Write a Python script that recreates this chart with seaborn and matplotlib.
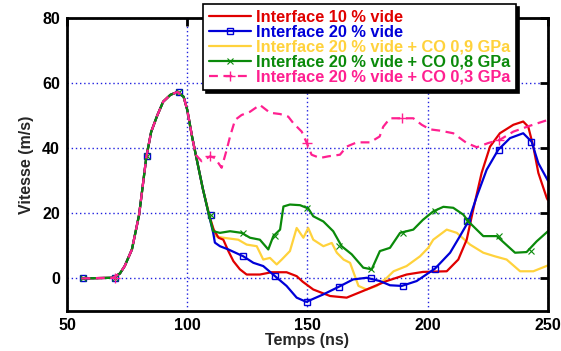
import numpy as np
import pandas as pd
import matplotlib
matplotlib.use("Agg")
import matplotlib.pyplot as plt
import seaborn as sns
from matplotlib.lines import Line2D

# partie commune (montee du pic)
rise_x = [56, 69, 72, 74, 77, 80, 83, 85, 87.5, 90, 93, 96, 98.5, 100, 102, 104, 106.5, 109]
rise_y = [0, 0.2, 1.5, 3.8, 8.9, 19.6, 37.3, 45, 50, 54.3, 56.4, 57.3, 55.8, 51.8, 43.6, 36.4, 27.5, 19.6]

# Interface 10 % vide
red_x = [111, 113, 115, 117.1, 119.2, 121.9, 124.7, 130.2, 135.1, 141.3, 145.5, 148, 152.4, 159.4,
         166.3, 174.6, 182.9, 191.2, 198, 207.9, 212.7, 216.2, 218.9, 222.4, 225.9, 230, 235.6,
         239.7, 241.8, 243.9, 246, 249.5, 250]
red_y = [15, 12.5, 11.9, 8.4, 5.3, 2.8, 1.2, 1.2, 1.9, 1.9, 0.7, -1, -3.4, -5.4,
         -5.9, -3.4, -0.8, 1.2, 2, 2.2, 5.8, 11.9, 21.1, 32.4, 40.5, 44.6, 47.2,
         48.2, 46.6, 40.5, 32.4, 24.7, 24]

# Interface 20 % vide
blue_x = [110.8, 111.5, 113.6, 117.1, 123.3, 127.5, 131.6, 136.5, 141.3, 145.5, 149.5, 156.6,
          163.2, 169, 174.6, 180.1, 184.3, 189.2, 195.4, 199, 203, 209.3, 213.4, 216.9, 220.4,
          224.5, 229.3, 234.2, 239.7, 243.2, 246, 250]
blue_y = [14, 11, 9.9, 8.9, 6.8, 4.8, 3.8, 0.7, -2.3, -5.9, -7.2, -4.9,
          -2.5, -0.3, 0.2, -0.8, -2.1, -2.3, -0.8, 1, 3, 7.9, 13, 17.5, 25.2,
          33.4, 39.5, 43.1, 44.6, 42, 35.4, 30]
blue_mk_x = [56.7, 70, 83.3, 96.6, 109.9, 123.2, 136.5, 149.8, 163.1, 176.4, 189.7, 203, 216.3, 229.6, 242.9]
blue_mk_y = [0, 0, 37.5, 57.3, 19.5, 6.8, 0.7, -7.2, -2.5, 0, -2.3, 3, 17.5, 39.5, 42]

# Interface 20 % vide + CO 0,9 GPa
yel_x = [111.5, 115, 121.2, 124.7, 128.9, 131.6, 134.4, 137.2, 139.3, 142.7, 145.5, 148.3, 150.3,
         152.4, 156.6, 160.1, 162.2, 165, 167.7, 171.2, 174.6, 178.8, 183, 185.8, 191.2, 196.8,
         200.2, 202.3, 207.9, 212.1, 217.6, 223.1, 227.9, 232.8, 238.4, 243.9, 250]
yel_y = [13, 12.5, 11.9, 10.4, 9.9, 5.8, 6.3, 4.3, 5.8, 8.4, 15.5, 12.5, 15.5,
         11.9, 9.9, 10.9, 7.9, 5.8, 4.8, -2.3, -3.4, -2.3, 0.2, 2.2, 3.8, 6.8,
         9.4, 11.9, 15, 14, 10.4, 7.9, 6.8, 5.8, 2.2, 2.2, 4]

# Interface 20 % vide + CO 0,8 GPa
grn_x = [110.8, 113.6, 117.8, 122.6, 126.1, 130.2, 133.7, 135.8, 138.6, 140, 142.7, 146.9, 150.3,
         152.4, 156.6, 160.7, 164.2, 168.4, 173.2, 176.7, 180.1, 184.3, 188.5, 194, 198, 202.3,
         206.5, 210.6, 214.8, 216.9, 223.1, 228.7, 236.3, 241.1, 245.3, 250]
grn_y = [14.5, 14, 14.5, 14, 12.5, 11.9, 8.9, 13, 15, 22.1, 22.7, 22.5, 21.5,
         19.1, 17.5, 14.5, 9.9, 7.4, 3.3, 2.8, 8.4, 9.4, 14, 15, 18, 20.6,
         22, 21.7, 19.6, 17.5, 13, 13, 7.9, 8.1, 11.4, 14.5]
grn_mk_x = blue_mk_x
grn_mk_y = [0, 0, 37.5, 57.3, 19.5, 14, 13, 21.5, 10, 2.8, 14, 20.6, 17.5, 13, 8.5]

# Interface 20 % vide + CO 0,3 GPa
pink_x = [103.5, 106, 109.5, 111.5, 114.3, 116.4, 117.8, 119.9, 122.6, 126.1, 130.2, 134.4, 138.6,
          142, 144.1, 147.6, 149.7, 151.7, 155.2, 158.6, 163.5, 166.3, 170.5, 176, 180, 181.5,
          184.3, 189.2, 194, 197.5, 200.9, 205.1, 210.6, 216.2, 220.4, 225.2, 230, 235.6, 242.5, 250]
pink_y = [38, 36, 37.5, 37, 34, 39.5, 43.6, 48.7, 50.2, 51.2, 53.3, 50.9, 50.5,
          49.7, 47.7, 45.1, 41.6, 38, 37, 37.5, 38, 40.5, 41.8, 41.8, 43.6, 46.6,
          49.2, 49.2, 49.2, 47.2, 45.8, 45.4, 44.6, 41.6, 40.3, 41.6, 42.6, 45.1, 46.9, 48.7]
pink_mk_x = [70, 109.5, 149.7, 189.2, 229.6]
pink_mk_y = [0, 37.5, 41.6, 49.2, 42.6]

labels = ["Interface 10 % vide", "Interface 20 % vide", "Interface 20 % vide + CO 0,9 GPa",
          "Interface 20 % vide + CO 0,8 GPa", "Interface 20 % vide + CO 0,3 GPa"]
colors = ["#e00000", "#0000d8", "#ffd23c", "#0a8a0a", "#ff2090"]

sns.set_theme(style="white")
plt.rcParams['font.family'] = ['Liberation Sans', 'DejaVu Sans']
plt.rcParams['font.weight'] = 'bold'

fig = plt.figure(figsize=(5.61, 3.51), dpi=100)
ax = fig.add_axes([0.1194, 0.114, 0.8574, 0.8347])

lw = 1.6
# jaune, rouge, bleu, vert, rose
sns.lineplot(x=rise_x[:-1] + yel_x, y=rise_y[:-1] + yel_y, sort=False, estimator=None,
             color=colors[2], lw=lw, ax=ax)
sns.lineplot(x=rise_x + red_x, y=rise_y + red_y, sort=False, estimator=None,
             color=colors[0], lw=lw, ax=ax)
sns.lineplot(x=rise_x + blue_x, y=rise_y + blue_y, sort=False, estimator=None,
             color=colors[1], lw=lw, ax=ax)
ax.plot(blue_mk_x, blue_mk_y, ls='none', marker='s', ms=5, mfc='none', mec=colors[1], mew=1)
sns.lineplot(x=rise_x + grn_x, y=rise_y + grn_y, sort=False, estimator=None,
             color=colors[3], lw=lw, ax=ax)
ax.plot(grn_mk_x, grn_mk_y, ls='none', marker='x', ms=5, mec=colors[3], mew=0.8)
sns.lineplot(x=rise_x[:15] + pink_x, y=rise_y[:15] + pink_y, sort=False, estimator=None,
             color=colors[4], lw=lw, linestyle=(0, (4, 2.5)), ax=ax)
ax.plot(pink_mk_x, pink_mk_y, ls='none', marker='+', ms=7, mec=colors[4], mew=1)

ax.set_xlim(50, 250)
ax.set_ylim(-10, 80)
ax.set_xticks([50, 100, 150, 200, 250])
ax.set_yticks([0, 20, 40, 60, 80])
ax.grid(True, color='#2020e0', ls=(0, (1, 2)), lw=1)
ax.tick_params(direction='in', length=6, width=2, top=True, right=True,
               labelsize=11.5, colors='black', pad=5)
for s in ax.spines.values():
    s.set_linewidth(2)
    s.set_color('black')
ax.set_xlabel("Temps (ns)", fontsize=11.5, fontweight='bold', labelpad=0)
ax.set_ylabel("Vitesse (m/s)", fontsize=11.5, fontweight='bold', labelpad=6)

handles = [
    Line2D([], [], color=colors[0], lw=lw),
    Line2D([], [], color=colors[1], lw=lw, marker='s', ms=5, mfc='none', mew=1),
    Line2D([], [], color=colors[2], lw=lw),
    Line2D([], [], color=colors[3], lw=lw, marker='x', ms=5, mew=0.8),
    Line2D([], [], color=colors[4], lw=lw, marker='+', ms=7, mew=1, ls=(0, (4, 2.5))),
]
leg = fig.legend(handles, labels, loc='upper left', bbox_to_anchor=(203 / 561, 1 - 4 / 351),
                 borderaxespad=0, frameon=True, fancybox=False,
                 shadow={'color': 'black', 'alpha': 1},
                 edgecolor='black', framealpha=1, handlelength=2.6, handletextpad=0.3,
                 labelspacing=0.0, borderpad=0.35, prop={'weight': 'bold', 'size': 11.8})
leg.get_frame().set_linewidth(1.2)
for t, c in zip(leg.get_texts(), colors):
    t.set_color(c)

fig.savefig("out.png", dpi=100)
